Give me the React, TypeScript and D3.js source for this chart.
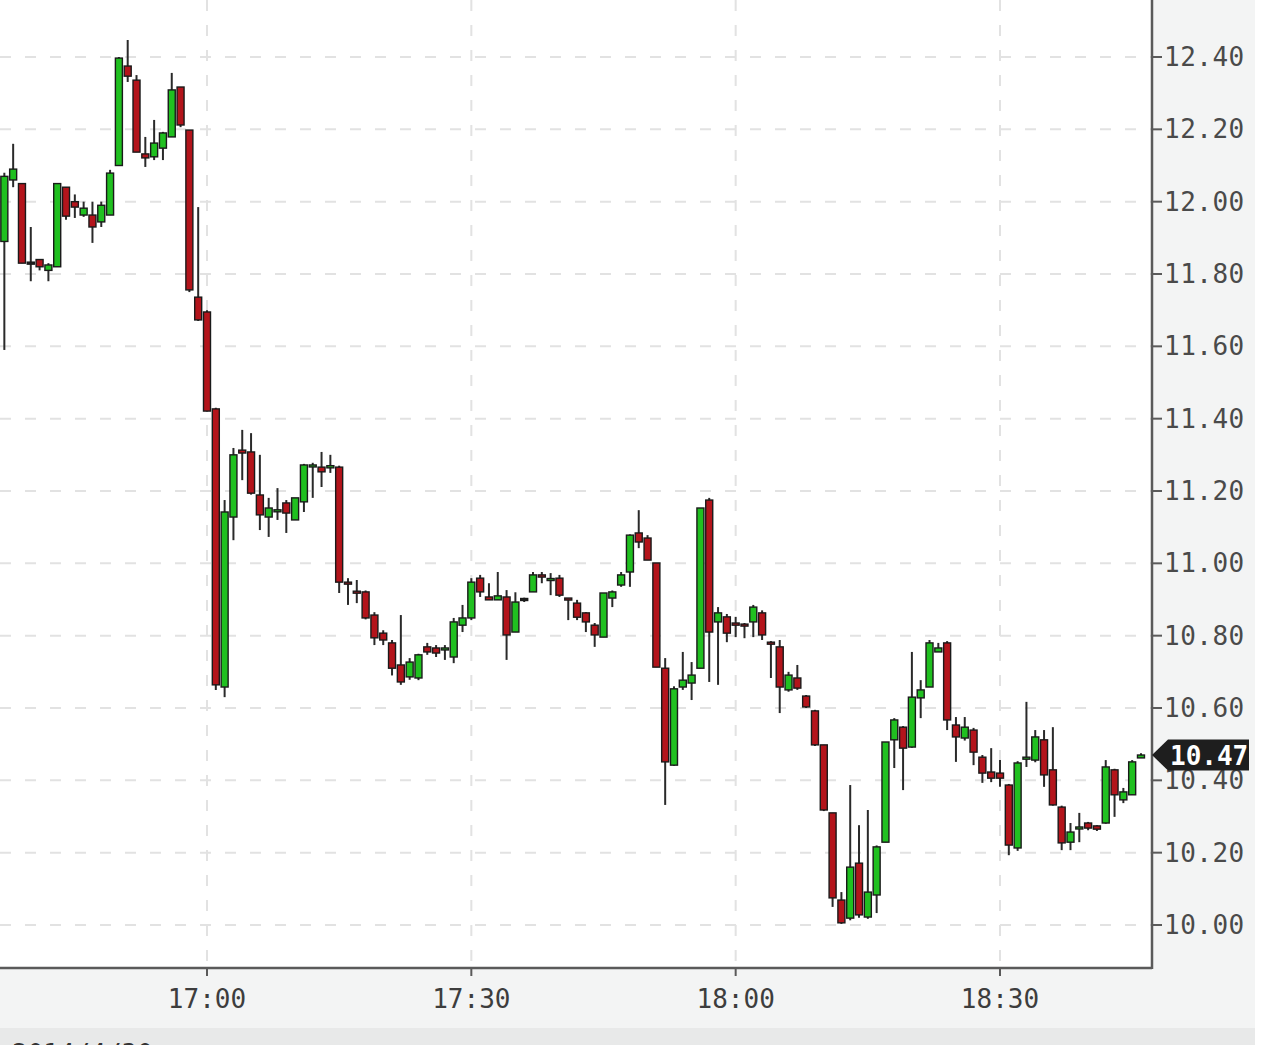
import React from 'react';
import * as d3 from 'd3';

// ---- data (1-minute candles starting 16:37) ----
const startHour = 16;
const startMinute = 37;
const opens = [
  11.89, 12.06, 12.05, 11.83, 11.84, 11.81, 11.82, 12.04, 12.0, 11.963, 11.963, 11.944, 11.963, 12.1, 12.375, 12.336,
  12.132, 12.124, 12.148, 12.179, 12.317, 12.198, 11.736, 11.695, 11.427, 10.658, 11.128, 11.313, 11.308, 11.189,
  11.128, 11.147, 11.167, 11.12, 11.17, 11.268, 11.266, 11.264, 11.266, 10.948, 10.923, 10.921, 10.857, 10.807,
  10.78, 10.719, 10.686, 10.683, 10.769, 10.766, 10.765, 10.741, 10.829, 10.849, 10.959, 10.907, 10.899, 10.907,
  10.81, 10.9, 10.921, 10.968, 10.955, 10.959, 10.904, 10.89, 10.863, 10.829, 10.796, 10.904, 10.94, 10.976,
  11.084, 11.07, 11.001, 10.71, 10.442, 10.658, 10.669, 10.71, 11.175, 10.838, 10.852, 10.835, 10.832, 10.838,
  10.863, 10.782, 10.769, 10.65, 10.683, 10.633, 10.592, 10.498, 10.31, 10.069, 10.019, 10.171, 10.022, 10.083,
  10.229, 10.512, 10.547, 10.492, 10.628, 10.658, 10.755, 10.78, 10.553, 10.517, 10.539, 10.464, 10.423, 10.42,
  10.387, 10.213, 10.462, 10.456, 10.512, 10.429, 10.326, 10.229, 10.268, 10.282, 10.274, 10.282, 10.429, 10.346,
  10.36, 10.462,
];
const highs = [
  12.08, 12.16, 12.05, 11.93, 11.84, 11.83, 12.05, 12.04, 12.02, 12.0, 12.0, 12.0, 12.088, 12.4, 12.447, 12.35,
  12.179, 12.226, 12.193, 12.356, 12.317, 12.198, 11.985, 11.7, 11.43, 11.175, 11.319, 11.369, 11.36, 11.3,
  11.181, 11.208, 11.175, 11.18, 11.275, 11.278, 11.308, 11.3, 11.27, 10.959, 10.954, 10.925, 10.865, 10.815,
  10.788, 10.857, 10.738, 10.75, 10.78, 10.774, 10.774, 10.849, 10.885, 10.959, 10.968, 10.945, 10.976, 10.926,
  10.92, 10.905, 10.976, 10.976, 10.973, 10.968, 10.904, 10.899, 10.865, 10.835, 10.918, 10.925, 10.976, 11.08,
  11.147, 11.078, 11.001, 10.738, 10.66, 10.755, 10.727, 11.153, 11.181, 10.879, 10.86, 10.852, 10.835, 10.885,
  10.87, 10.785, 10.788, 10.7, 10.719, 10.636, 10.595, 10.498, 10.31, 10.091, 10.387, 10.276, 10.318, 10.22,
  10.506, 10.572, 10.55, 10.755, 10.677, 10.788, 10.78, 10.785, 10.575, 10.575, 10.545, 10.47, 10.489, 10.456,
  10.39, 10.453, 10.617, 10.539, 10.539, 10.547, 10.33, 10.282, 10.31, 10.285, 10.276, 10.456, 10.432, 10.379,
  10.456, 10.475,
];
const lows = [
  11.59, 12.04, 11.83, 11.78, 11.81, 11.78, 11.82, 11.95, 11.955, 11.958, 11.886, 11.93, 11.963, 12.1, 12.331, 12.137,
  12.096, 12.115, 12.115, 12.179, 12.206, 11.75, 11.67, 11.42, 10.65, 10.63, 11.064, 11.23, 11.19, 11.092,
  11.073, 11.12, 11.084, 11.12, 11.142, 11.181, 11.211, 11.25, 10.918, 10.885, 10.89, 10.845, 10.774, 10.774,
  10.69, 10.664, 10.678, 10.677, 10.747, 10.741, 10.733, 10.724, 10.81, 10.843, 10.907, 10.899, 10.899, 10.733,
  10.81, 10.893, 10.921, 10.945, 10.912, 10.907, 10.843, 10.843, 10.81, 10.769, 10.796, 10.879, 10.935, 10.935,
  11.042, 11.009, 10.713, 10.332, 10.44, 10.65, 10.622, 10.71, 10.672, 10.664, 10.782, 10.796, 10.793, 10.796,
  10.788, 10.683, 10.586, 10.645, 10.65, 10.6, 10.495, 10.315, 10.05, 10.003, 10.013, 10.02, 10.017, 10.033,
  10.229, 10.434, 10.373, 10.49, 10.572, 10.658, 10.755, 10.539, 10.451, 10.51, 10.442, 10.393, 10.395, 10.382,
  10.193, 10.205, 10.437, 10.45, 10.382, 10.33, 10.207, 10.207, 10.229, 10.262, 10.26, 10.28, 10.299, 10.337,
  10.36, 10.462,
];
const closes = [
  12.07, 12.09, 11.83, 11.83, 11.82, 11.825, 12.05, 11.96, 11.985, 11.982, 11.93, 11.99, 12.079, 12.397, 12.347, 12.137,
  12.121, 12.162, 12.19, 12.309, 12.212, 11.756, 11.673, 11.421, 10.664, 11.142, 11.3, 11.305, 11.194, 11.134,
  11.153, 11.148, 11.139, 11.181, 11.272, 11.272, 11.253, 11.27, 10.948, 10.945, 10.918, 10.849, 10.794, 10.788,
  10.71, 10.672, 10.727, 10.747, 10.755, 10.752, 10.766, 10.838, 10.849, 10.948, 10.921, 10.899, 10.91, 10.802,
  10.893, 10.9, 10.968, 10.962, 10.958, 10.912, 10.899, 10.851, 10.838, 10.802, 10.918, 10.921, 10.968, 11.078,
  11.059, 11.009, 10.713, 10.451, 10.653, 10.677, 10.691, 11.153, 10.81, 10.863, 10.807, 10.829, 10.829, 10.879,
  10.802, 10.78, 10.658, 10.691, 10.655, 10.603, 10.498, 10.318, 10.075, 10.006, 10.16, 10.028, 10.091, 10.216,
  10.506, 10.567, 10.489, 10.63, 10.65, 10.78, 10.766, 10.567, 10.52, 10.547, 10.478, 10.42, 10.406, 10.406,
  10.221, 10.448, 10.464, 10.52, 10.415, 10.332, 10.227, 10.257, 10.271, 10.268, 10.265, 10.437, 10.36, 10.368,
  10.451, 10.47,
];
const yTicks = [10.0, 10.2, 10.4, 10.6, 10.8, 11.0, 11.2, 11.4, 11.6, 11.8, 12.0, 12.2, 12.4];
const xTickLabels = ['17:00', '17:30', '18:00', '18:30'];
const lastPrice = 10.47;
const dateLabel = '2014/4/30';

const W = 1280;
const H = 1045;
const axisX = 1152;
const axisY = 968;
const mono = '"DejaVu Sans Mono", monospace';

const day = (h: number, m: number) => new Date(2014, 3, 30, h, m);
const parseHM = (s: string) => {
  const [h, m] = s.split(':').map(Number);
  return day(h, m);
};

export default function App() {
  const x = d3.scaleTime().domain([day(17, 0), day(18, 30)]).range([207, 1000]);
  const y = d3.scaleLinear().domain([10.0, 12.4]).range([925, 57]);
  const bodyW = 7;

  const candles = opens.map((o, i) => ({
    t: day(startHour, startMinute + i),
    o,
    h: highs[i],
    l: lows[i],
    c: closes[i],
  }));

  const green = '#20c020';
  const red = '#b3141b';

  return (
    <svg
      width={W}
      height={H}
      style={{ position: 'absolute', left: 0, top: 0, display: 'block' }}
    >
      <rect x={0} y={0} width={W} height={H} fill="#ffffff" />
      {/* axis panels */}
      <rect x={axisX} y={0} width={1255 - axisX} height={1028} fill="#f3f4f4" />
      <rect x={0} y={axisY} width={1255} height={1028 - axisY} fill="#f3f4f4" />
      <rect x={0} y={1028} width={1255} height={H - 1028} fill="#e8e9e9" />
      <text x={12} y={1063} fontFamily={mono} fontSize={26} fill="#333">
        {dateLabel}
      </text>

      {/* grid */}
      <g stroke="#e2e2e2" strokeWidth={2} strokeDasharray="11,14">
        {yTicks.map((t) => (
          <line key={'h' + t} x1={0} x2={axisX} y1={y(t)} y2={y(t)} />
        ))}
        {xTickLabels.map((s) => (
          <line key={'v' + s} x1={x(parseHM(s))} x2={x(parseHM(s))} y1={0} y2={axisY} />
        ))}
      </g>

      {/* candles */}
      <g>
        {candles.map((d, i) => {
          const cx = x(d.t);
          const up = d.c > d.o;
          const flat = Math.abs(d.c - d.o) < 1e-9;
          const top = y(Math.max(d.o, d.c));
          const bot = y(Math.min(d.o, d.c));
          const bh = Math.max(bot - top, 2);
          return (
            <g key={i}>
              <line x1={cx} x2={cx} y1={y(d.h)} y2={y(d.l)} stroke="#2a2a2a" strokeWidth={2} />
              <rect
                x={cx - bodyW / 2}
                y={flat ? top - 1 : top}
                width={bodyW}
                height={bh}
                fill={flat ? '#222' : up ? green : red}
                stroke="#1a1a1a"
                strokeWidth={1.4}
              />
            </g>
          );
        })}
      </g>

      {/* axes */}
      <line x1={0} x2={axisX} y1={axisY} y2={axisY} stroke="#5a5a5a" strokeWidth={2.5} />
      <line x1={axisX} x2={axisX} y1={0} y2={axisY + 1} stroke="#5a5a5a" strokeWidth={2.5} />
      {yTicks.map((t) => (
        <g key={'yt' + t}>
          <line x1={axisX} x2={axisX + 10} y1={y(t)} y2={y(t)} stroke="#5a5a5a" strokeWidth={2} />
          <text x={axisX + 12} y={y(t) + 9} fontFamily={mono} fontSize={26} fill="#4a4a4a" letterSpacing={0.5}>
            {d3.format('.2f')(t)}
          </text>
        </g>
      ))}
      {xTickLabels.map((s) => (
        <g key={'xt' + s}>
          <line x1={x(parseHM(s))} x2={x(parseHM(s))} y1={axisY} y2={axisY + 8} stroke="#5a5a5a" strokeWidth={2} />
          <text x={x(parseHM(s))} y={1008} textAnchor="middle" fontFamily={mono} fontSize={26} fill="#3d3d3d">
            {s}
          </text>
        </g>
      ))}

      {/* last price tag */}
      <g>
        <path
          d={`M${axisX},${y(lastPrice)} L${axisX + 16},${y(lastPrice) - 15.5} L1249,${y(lastPrice) - 15.5} L1249,${y(lastPrice) + 15.5} L${axisX + 16},${y(lastPrice) + 15.5} Z`}
          fill="#1e1e1e"
        />
        <text x={1170} y={y(lastPrice) + 9.5} fontFamily={mono} fontSize={26} fontWeight="bold" fill="#ffffff">
          {d3.format('.2f')(lastPrice)}
        </text>
      </g>
    </svg>
  );
}
